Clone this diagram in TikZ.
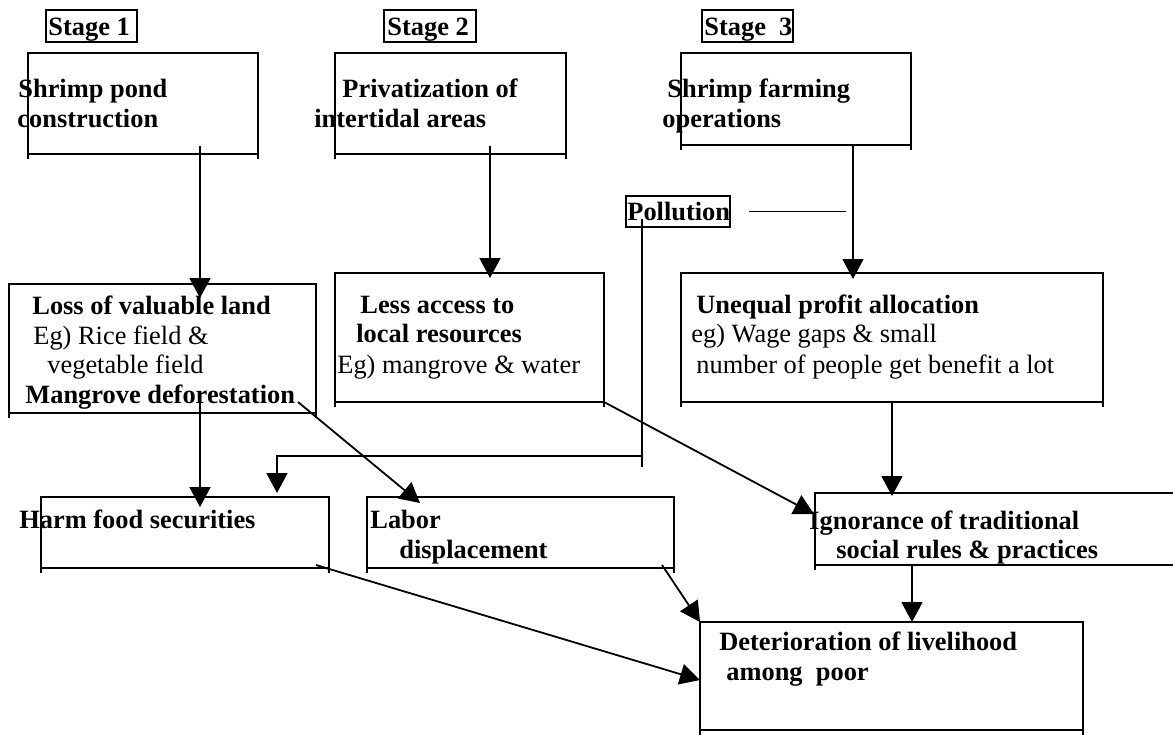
\documentclass[tikz,border=0pt]{standalone}
\usepackage{fontspec}
\setmainfont{Liberation Serif}
\usetikzlibrary{calc, fit, arrows.meta}

\begin{document}
\begin{tikzpicture}[x=0.5pt, y=-0.5pt]
  \tikzstyle{box}=[draw, line width=0.9pt, inner sep=0pt, outer sep=0pt]
  \tikzstyle{txt}=[anchor=base west, inner sep=0pt, font=\fontsize{13.2}{15}\selectfont\bfseries]
  \tikzstyle{eg}=[anchor=base west, inner sep=0pt, font=\fontsize{13.2}{15}\selectfont]
  \tikzstyle{link}=[line width=0.9pt]
  \tikzstyle{arr}=[line width=0.9pt, -{Triangle[width=10.5pt, length=10pt]}]

  \clip (0,0) rectangle (1173,734);
  \fill[white] (0,0) rectangle (1173,734);

  % stage labels
  \node (s1) [box, fit={(46,10) (137,42)}] {};
  \node (s2) [box, fit={(384,10) (476,42)}] {};
  \node (s3) [box, fit={(702,10) (793,42)}] {};
  \node (s1t) at (48,35) [txt] {Stage 1};
  \node (s2t) at (387,35) [txt] {Stage 2};
  \node (s3t) at (704,35) [txt] {Stage\ \ 3};

  % boxes
  \node (A) [box, fit={(28,53) (258,154)}] {};
  \node (B) [box, fit={(335,53) (566,154)}] {};
  \node (C) [box, fit={(681,53) (911,145)}] {};
  \node (D) [box, fit={(9,284) (316,413)}] {};
  \node (E) [box, fit={(335,273) (604,402)}] {};
  \node (F) [box, fit={(681,273) (1103,402)}] {};
  \node (P) [box, fit={(626,196) (730,227)}] {};
  \node (G) [box, fit={(41,497) (329,568)}] {};
  \node (H) [box, fit={(367,497) (674,568)}] {};
  \node (I) [box, fit={(815,493) (1180,565)}] {};
  \node (J) [box, fit={(700,622) (1083,730)}] {};
  \foreach \b in {A,B,C,D,E,F,G,H,I,J}
    \draw[link] (\b.south west) -- ++(0,5) (\b.south east) -- ++(0,5);

  % box texts
  \node (aT1) at (18,97) [txt] {Shrimp pond};
  \node (aT2) at (17,127) [txt] {construction};
  \node (bT1) at (342,97) [txt] {Privatization of};
  \node (bT2) at (314,127) [txt] {intertidal areas};
  \node (cT1) at (667,97) [txt] {Shrimp farming};
  \node (cT2) at (662,127) [txt] {operations};
  \node (pT) at (627,220) [txt] {Pollution};
  \node (dT1) at (32,314) [txt] {Loss of valuable land};
  \node (dT2) at (33,344) [eg] {Eg) Rice field \&};
  \node (dT3) at (47,373) [eg] {vegetable field};
  \node (dT4) at (25,403) [txt] {Mangrove deforestation};
  \node (eT1) at (360,313) [txt] {Less access to};
  \node (eT2) at (356,342) [txt] {local resources};
  \node (eT3) at (337,373) [eg] {Eg) mangrove \& water};
  \node (fT1) at (696,313) [txt] {Unequal profit allocation};
  \node (fT2) at (691,342) [eg] {eg) Wage gaps \& small};
  \node (fT3) at (696,373) [eg] {number of people get benefit a lot};
  \node (gT) at (19,528) [txt] {Harm food securities};
  \node (hT1) at (370,528) [txt] {Labor};
  \node (hT2) at (399,558) [txt] {displacement};
  \node (iT1) at (809,529) [txt] {Ignorance of traditional};
  \node (iT2) at (836,558) [txt] {social rules \& practices};
  \node (jT1) at (719,650) [txt] {Deterioration of livelihood};
  \node (jT2) at (726,680) [txt] {among\ \ poor};

  % arrows
  \draw[arr] ($(A.south west)+(172,-8)$) -- ($(D.north west)+(191,14)$);
  \draw[arr] ($(B.south west)+(155,-8)$) -- ($(E.north west)+(155,5)$);
  \draw[arr] ($(C.south west)+(172,0)$) -- ($(F.north west)+(172,6)$);
  \draw[arr] ($(D.south west)+(191,-11)$) -- ($(G.north west)+(159,10)$);
  \draw[arr] ($(D.south west)+(289,-11)$) -- ($(H.north west)+(53,6)$);
  \draw[link] ($(P.south west)+(16,-8)$) -- ++(0,248);
  \draw[arr] ($(P.south west)+(16,229)$) -| ($(G.north west)+(236,-4)$);
  \draw[link] ($(P.east)+(19,0)$) -- ++(97,0);
  \draw[arr] (E.south east) -- ($(I.north west)+(-1,21)$);
  \draw[arr] ($(F.south west)+(211,0)$) -- ($(I.north west)+(77,3)$);
  \draw[arr] ($(G.south west)+(275,-3)$) -- ($(J.north west)+(0,58)$);
  \draw[arr] ($(H.south east)+(-12,-3)$) -- (J.north west);
  \draw[arr] ($(I.south west)+(97,0)$) -- ($(J.north west)+(212,0)$);
\end{tikzpicture}
\end{document}
